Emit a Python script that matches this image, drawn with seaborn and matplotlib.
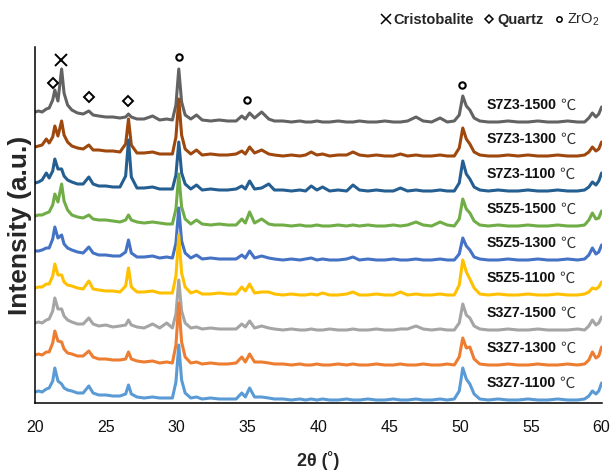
import numpy as np
import pandas as pd
import matplotlib
matplotlib.use("Agg")
import matplotlib.pyplot as plt
from matplotlib.lines import Line2D
from matplotlib.font_manager import FontProperties
import seaborn as sns

# ---------------- data ----------------
TWO_THETA = [
    20.0, 20.25, 20.5, 20.8, 21.0, 21.25, 21.4, 21.62, 21.88, 22.05,
    22.3, 22.6, 23.0, 23.4, 23.8, 24.1, 24.5, 25.0, 25.5, 26.0,
    26.4, 26.6, 26.8, 27.2, 27.7, 28.3, 28.8, 29.3, 29.7, 29.95,
    30.15, 30.35, 30.6, 31.0, 31.4, 31.8, 32.4, 33.0, 33.6, 34.2,
    34.6, 34.85, 35.15, 35.5, 36.0, 36.5, 36.9, 37.5, 38.1, 38.7,
    39.1, 39.5, 39.9, 40.3, 40.8, 41.4, 42.0, 42.45, 42.9, 43.5,
    44.1, 44.7, 45.3, 45.8, 46.3, 46.9, 47.4, 48.0, 48.6, 49.1,
    49.6, 49.95, 50.2, 50.45, 50.7, 51.0, 51.4, 52.0, 52.7, 53.4,
    54.1, 54.8, 55.5, 56.2, 56.9, 57.6, 58.3, 58.8, 59.1, 59.35,
    59.6, 59.8, 60.0]

S3Z7_1100 = [
    11, 12, 11, 14, 15, 22, 35, 22, 19, 15,
    13, 12, 10, 10, 17, 10, 8, 8, 7, 7,
    9, 18, 9, 6, 5, 6, 5, 5, 5, 21,
    58, 23, 10, 5, 6, 4, 5, 4, 4, 4,
    10, 6, 15, 6, 6, 5, 4, 4, 3, 4,
    3, 4, 3, 4, 3, 3, 4, 3, 3, 4,
    3, 3, 4, 3, 3, 4, 3, 3, 4, 3,
    4, 12, 35, 24, 19, 9, 4, 3, 4, 3,
    3, 4, 3, 3, 4, 3, 3, 4, 7, 12,
    9, 12, 20]
S3Z7_1300 = [
    13, 14, 13, 16, 16, 25, 37, 27, 26, 19,
    15, 14, 12, 12, 17, 11, 9, 9, 8, 8,
    9, 16, 9, 7, 6, 7, 5, 6, 5, 23,
    65, 26, 11, 5, 6, 4, 5, 4, 4, 5,
    11, 6, 14, 6, 6, 5, 4, 4, 3, 4,
    3, 3, 4, 3, 3, 4, 3, 4, 3, 3,
    4, 3, 3, 4, 3, 3, 4, 3, 3, 4,
    3, 11, 30, 20, 21, 9, 4, 3, 3, 4,
    3, 3, 4, 3, 3, 4, 3, 4, 8, 16,
    10, 12, 21]
S3Z7_1500 = [
    10, 11, 10, 13, 14, 22, 35, 24, 24, 17,
    13, 11, 9, 9, 15, 9, 7, 8, 6, 7,
    8, 13, 8, 6, 5, 9, 5, 10, 5, 19,
    53, 22, 10, 5, 6, 4, 5, 4, 4, 4,
    9, 6, 12, 5, 7, 5, 4, 3, 4, 3,
    3, 4, 3, 3, 4, 3, 3, 4, 3, 3,
    4, 3, 3, 4, 4, 7, 4, 3, 4, 3,
    3, 10, 29, 18, 15, 7, 4, 3, 3, 4,
    3, 3, 4, 3, 3, 3, 4, 3, 7, 13,
    8, 10, 16]
S5Z5_1100 = [
    10, 11, 11, 14, 14, 22, 34, 23, 23, 16,
    13, 12, 10, 9, 17, 9, 8, 7, 7, 6,
    12, 30, 11, 6, 6, 7, 5, 5, 5, 22,
    63, 25, 11, 5, 7, 4, 4, 5, 4, 4,
    11, 7, 14, 5, 6, 6, 4, 3, 4, 3,
    3, 4, 3, 5, 3, 3, 4, 6, 3, 3,
    4, 3, 3, 6, 3, 4, 3, 3, 4, 3,
    3, 13, 38, 26, 19, 10, 4, 3, 4, 3,
    3, 4, 3, 3, 4, 3, 3, 4, 6, 10,
    9, 11, 16]
S5Z5_1300 = [
    12, 12, 13, 15, 15, 24, 36, 25, 28, 19,
    15, 13, 11, 10, 16, 10, 8, 8, 7, 7,
    11, 23, 10, 6, 6, 7, 5, 6, 5, 20,
    55, 22, 10, 5, 8, 4, 5, 4, 4, 4,
    8, 5, 12, 5, 7, 5, 4, 3, 4, 3,
    4, 5, 3, 4, 3, 3, 4, 6, 3, 4,
    3, 3, 4, 3, 3, 4, 3, 3, 4, 3,
    3, 9, 25, 17, 13, 6, 4, 3, 3, 4,
    3, 3, 4, 3, 3, 4, 3, 4, 8, 15,
    9, 11, 18]
S5Z5_1500 = [
    13, 14, 14, 16, 17, 24, 35, 27, 45, 28,
    19, 14, 12, 11, 14, 10, 9, 9, 8, 7,
    9, 14, 9, 7, 6, 7, 6, 5, 5, 20,
    55, 22, 10, 5, 9, 5, 4, 5, 4, 4,
    10, 6, 17, 6, 10, 5, 4, 4, 3, 4,
    3, 3, 4, 3, 3, 4, 3, 4, 3, 4,
    3, 3, 4, 3, 4, 7, 4, 3, 7, 4,
    3, 10, 30, 20, 16, 8, 4, 3, 4, 3,
    3, 4, 3, 3, 4, 3, 3, 4, 9, 16,
    10, 11, 18]
S7Z3_1100 = [
    11, 12, 14, 21, 16, 23, 35, 25, 25, 18,
    14, 12, 10, 10, 17, 10, 8, 8, 7, 7,
    18, 54, 17, 6, 6, 7, 5, 5, 5, 19,
    52, 21, 10, 5, 9, 4, 5, 4, 4, 5,
    8, 5, 13, 5, 6, 10, 4, 4, 3, 4,
    3, 8, 4, 7, 3, 4, 3, 9, 4, 3,
    4, 3, 3, 6, 3, 4, 3, 3, 4, 3,
    3, 11, 33, 20, 15, 7, 4, 3, 4, 3,
    3, 4, 3, 3, 4, 3, 3, 4, 7, 12,
    9, 13, 21]
S7Z3_1300 = [
    12, 13, 14, 20, 16, 22, 33, 23, 38, 24,
    17, 13, 11, 10, 14, 9, 9, 8, 8, 7,
    15, 40, 14, 6, 6, 7, 5, 5, 5, 22,
    60, 24, 10, 5, 9, 4, 5, 4, 4, 5,
    8, 5, 12, 6, 9, 5, 4, 3, 4, 3,
    4, 7, 4, 5, 3, 4, 4, 7, 4, 3,
    4, 3, 3, 5, 3, 4, 3, 3, 4, 3,
    3, 11, 31, 20, 15, 7, 4, 3, 3, 4,
    3, 4, 3, 3, 4, 3, 3, 4, 7, 12,
    8, 10, 17]
S7Z3_1500 = [
    13, 14, 13, 16, 17, 25, 35, 24, 56, 32,
    20, 15, 12, 11, 14, 10, 9, 8, 8, 7,
    8, 11, 8, 6, 6, 9, 5, 6, 5, 20,
    56, 23, 10, 6, 10, 5, 4, 5, 4, 4,
    9, 6, 12, 7, 13, 6, 4, 4, 3, 4,
    3, 3, 4, 3, 3, 4, 3, 3, 4, 3,
    3, 4, 3, 3, 4, 8, 4, 3, 7, 3,
    4, 10, 29, 19, 15, 7, 4, 3, 3, 4,
    3, 3, 4, 3, 3, 4, 3, 3, 7, 12,
    8, 11, 18]

SAMPLE_NAMES = ["S7Z3-1500", "S7Z3-1300", "S7Z3-1100",
                "S5Z5-1500", "S5Z5-1300", "S5Z5-1100",
                "S3Z7-1500", "S3Z7-1300", "S3Z7-1100"]
SAMPLE_VALUES = [S7Z3_1500, S7Z3_1300, S7Z3_1100,
                 S5Z5_1500, S5Z5_1300, S5Z5_1100,
                 S3Z7_1500, S3Z7_1300, S3Z7_1100]
UNIT = "℃"

# phase markers (2θ position, height on the stacked intensity scale)
CRISTOBALITE_2T = [21.85]
CRISTOBALITE_Y = [343]
QUARTZ_2T = [21.3, 23.8, 26.6]
QUARTZ_Y = [320, 306, 302]
ZRO2_2T = [30.15, 35.0, 50.15]
ZRO2_Y = [346, 303, 318]

# ---------------- style / layout ----------------
OFFSETS = [278, 244, 209, 174, 140, 105, 70, 35, 0]
COLORS = ["#636363", "#9E480E", "#255E91", "#70AD47", "#4472C4",
          "#FFC000", "#A5A5A5", "#ED7D31", "#5B9BD5"]

sns.set_style("white")
plt.rcParams["font.family"] = ["Liberation Sans", "DejaVu Sans"]
plt.rcParams["mathtext.default"] = "regular"

frames = []
for name, vals, off in zip(SAMPLE_NAMES, SAMPLE_VALUES, OFFSETS):
    frames.append(pd.DataFrame({"2θ": TWO_THETA,
                                "Intensity": np.asarray(vals, float) + off,
                                "Sample": name}))
df = pd.concat(frames, ignore_index=True)

fig = plt.figure(figsize=(6.11, 4.74), dpi=100)
ax = fig.add_axes([35 / 611, 71 / 474, 566.6 / 611, 356 / 474])

sns.lineplot(data=df, x="2θ", y="Intensity", hue="Sample",
             hue_order=SAMPLE_NAMES, palette=dict(zip(SAMPLE_NAMES, COLORS)),
             estimator=None, sort=False, linewidth=2.2, legend=False, ax=ax)

# phase markers
ax.plot(CRISTOBALITE_2T, CRISTOBALITE_Y, ls="none", marker="x", ms=8.6,
        mew=1.4, color="black", zorder=5)
ax.plot(QUARTZ_2T, QUARTZ_Y, ls="none", marker="D", ms=5.0, mew=1.4,
        mfc="none", mec="black", zorder=5)
ax.plot(ZRO2_2T, ZRO2_Y, ls="none", marker="o", ms=4.6, mew=1.5,
        mfc="none", mec="black", zorder=5)

# sample labels
for name, off in zip(SAMPLE_NAMES, OFFSETS):
    t = ax.text(51.9, off + 20, name, fontsize=10.2, fontweight="bold",
                ha="left", va="center", color="#111111", zorder=6)
    ax.annotate(UNIT, xy=(1, 0.5), xycoords=t, xytext=(2.5, 0),
                textcoords="offset points", ha="left", va="center",
                fontsize=11, family=["Noto Sans CJK SC", "DejaVu Sans"],
                color="#333333", zorder=6)

ax.set_xlim(20, 60)
ax.set_ylim(0, 356)
ax.set_xticks([20, 25, 30, 35, 40, 45, 50, 55, 60])
ax.set_yticks([])
ax.tick_params(axis="x", length=0, pad=12, labelsize=11.5, labelcolor="#111111")
for s in ["top", "right"]:
    ax.spines[s].set_visible(False)
for s in ["left", "bottom"]:
    ax.spines[s].set_color("black")
    ax.spines[s].set_linewidth(1.1)

ax.set_xlabel("2θ (˚)", fontsize=13, fontweight="bold")
ax.xaxis.set_label_coords(0.5, -0.135)
ax.xaxis.label.set_va("top")
ax.set_ylabel("Intensity (a.u.)", fontsize=19, fontweight="bold")
ax.yaxis.set_label_coords(-0.005, 0.5)

# phase legend at the top
handles = [
    Line2D([], [], ls="none", marker="x", ms=7, mew=1.1, color="black"),
    Line2D([], [], ls="none", marker="D", ms=4.0, mew=1.1, mfc="none", mec="black"),
    Line2D([], [], ls="none", marker="o", ms=3.8, mew=1.1, mfc="none", mec="black"),
]
labels = ["Cristobalite", "Quartz", "ZrO$_2$"]
leg = fig.legend(handles, labels, loc="center", bbox_to_anchor=(490 / 611, 1 - 20 / 474),
                 ncol=3, frameon=False, handlelength=0.7, handletextpad=0.2,
                 columnspacing=0.7, borderpad=0, borderaxespad=0,
                 prop=FontProperties(family="Liberation Sans", weight="bold", size=10.5))
leg.get_texts()[2].set_fontweight("normal")

fig.savefig("out.png", dpi=100)
